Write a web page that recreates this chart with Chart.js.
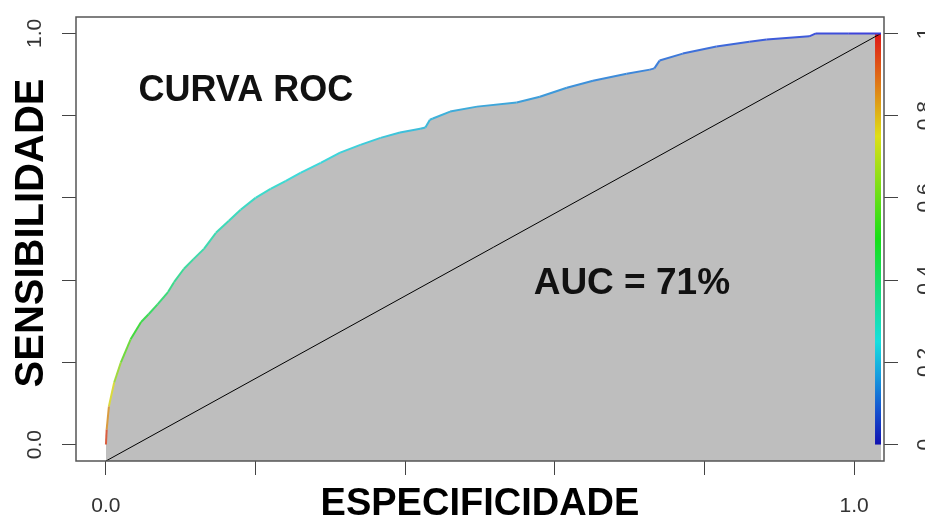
<!DOCTYPE html>
<html>
<head>
<meta charset="utf-8">
<title>CURVA ROC</title>
<script src="https://cdn.jsdelivr.net/npm/chart.js@4.4.1/dist/chart.umd.min.js"></script>
<style>
  html, body { margin: 0; padding: 0; background: #ffffff; }
  #wrap { width: 925px; height: 520px; position: relative; }
</style>
</head>
<body>
<div id="wrap"><canvas id="roc" width="925" height="520"></canvas></div>
<script>
// ROC curve points: false-positive rate (x) against sensitivity (y),
// with the classification cutoff reached at each point (drives the colour).
const fpr = [0, 0.001, 0.004, 0.011, 0.020, 0.033, 0.047, 0.057, 0.069, 0.083,
             0.091, 0.104, 0.117, 0.131, 0.147, 0.164, 0.180, 0.200, 0.220, 0.240,
             0.260, 0.287, 0.313, 0.340, 0.367, 0.393, 0.420, 0.427, 0.433, 0.437,
             0.460, 0.496, 0.549, 0.580, 0.616, 0.651, 0.696, 0.727, 0.733, 0.740,
             0.771, 0.816, 0.860, 0.883, 0.940, 0.949, 0.993, 1.036];
const tpr = [0, 0.037, 0.093, 0.151, 0.200, 0.256, 0.298, 0.317, 0.341, 0.371,
             0.395, 0.427, 0.451, 0.476, 0.515, 0.544, 0.571, 0.600, 0.622, 0.641,
             0.661, 0.685, 0.710, 0.729, 0.746, 0.759, 0.768, 0.771, 0.790, 0.793,
             0.810, 0.822, 0.832, 0.846, 0.868, 0.885, 0.902, 0.912, 0.915, 0.934,
             0.951, 0.968, 0.980, 0.985, 0.993, 1.000, 1.000, 1.000];
const cutoff = [1.00, 0.90, 0.80, 0.70, 0.62, 0.54, 0.48, 0.45, 0.42, 0.39,
                0.37, 0.35, 0.33, 0.32, 0.31, 0.30, 0.29, 0.28, 0.27, 0.26,
                0.25, 0.245, 0.24, 0.23, 0.22, 0.21, 0.20, 0.20, 0.19, 0.19,
                0.18, 0.17, 0.16, 0.15, 0.14, 0.13, 0.12, 0.11, 0.11, 0.10,
                0.09, 0.07, 0.06, 0.05, 0.04, 0.03, 0.02, 0.00];

// chance line
const chanceX = [0, 1.036];
const chanceY = [-0.04, 1.0];

// axis ticks and their labels
const tickValues = [0, 0.2, 0.4, 0.6, 0.8, 1];
const xTickLabels = ['0.0', '', '', '', '', '1.0'];
const yTickLabels = ['0.0', '', '', '', '', '1.0'];
const cutoffTickLabels = ['0', '0.2', '0.4', '0.6', '0.8', '1'];

const chartTitle = 'CURVA ROC';
const aucText = 'AUC = 71%';
const xTitle = 'ESPECIFICIDADE';
const yTitle = 'SENSIBILIDADE';

// rainbow colour for a cutoff value (1 = red, 0 = blue)
function cutoffColor(c) {
  const h = Math.round((1 - c) * 240);
  return 'hsl(' + h + ', 68%, 55%)';
}

const rocPoints = fpr.map((v, i) => ({ x: v, y: tpr[i] }));
const chancePoints = chanceX.map((v, i) => ({ x: v, y: chanceY[i] }));

const fixTicks = scale => { scale.ticks = tickValues.map(v => ({ value: v })); };

const FONT = '"Liberation Sans", Arial, Helvetica, sans-serif';

function rotatedText(ctx, text, x, y, font, color) {
  ctx.save();
  ctx.translate(x, y);
  ctx.rotate(-Math.PI / 2);
  ctx.font = font;
  ctx.fillStyle = color;
  ctx.textAlign = 'center';
  ctx.textBaseline = 'middle';
  ctx.fillText(text, 0, 0);
  ctx.restore();
}

const rocDecor = {
  id: 'rocDecor',
  beforeDraw(chart) {
    const { ctx, width, height } = chart;
    ctx.save();
    ctx.fillStyle = '#ffffff';
    ctx.fillRect(0, 0, width, height);
    ctx.restore();
  },
  afterDatasetDraw(chart, args, opts) {
    if (args.index !== 0) return;
    // cutoff colour bar along the right edge of the plot
    const { ctx, scales: { x, y } } = chart;
    const x0 = x.getPixelForValue(opts.barFrom);
    const x1 = x.getPixelForValue(opts.barTo);
    const yt = y.getPixelForValue(1);
    const yb = y.getPixelForValue(0);
    const g = ctx.createLinearGradient(0, yt, 0, yb);
    for (let i = 0; i <= 12; i++) {
      const t = i / 12;
      const light = t > 0.85 ? 50 - (t - 0.85) * 80 : 48;
      g.addColorStop(t, 'hsl(' + Math.round(240 * t) + ', 82%, ' + light + '%)');
    }
    ctx.save();
    ctx.fillStyle = g;
    ctx.fillRect(x0, yt, x1 - x0, yb - yt);
    ctx.restore();
  },
  afterDraw(chart, args, opts) {
    const { ctx, chartArea: a, scales: { x, y } } = chart;
    ctx.save();
    // plot frame
    ctx.strokeStyle = '#555555';
    ctx.lineWidth = 1.5;
    ctx.strokeRect(a.left, a.top, a.right - a.left, a.bottom - a.top);

    // rotated tick labels on both vertical axes
    const tickFont = '21px ' + FONT;
    tickValues.forEach((v, i) => {
      const py = y.getPixelForValue(v);
      if (yTickLabels[i]) rotatedText(ctx, yTickLabels[i], opts.leftLabelX, py, tickFont, '#333333');
      rotatedText(ctx, cutoffTickLabels[i], opts.rightLabelX, py, tickFont, '#333333');
    });

    // vertical axis title
    rotatedText(ctx, yTitle, opts.yTitleX, opts.yTitleY, 'bold 40px ' + FONT, '#000000');

    // in-plot text
    ctx.font = 'bold 36px ' + FONT;
    ctx.fillStyle = '#111111';
    ctx.textAlign = 'center';
    ctx.textBaseline = 'middle';
    ctx.fillText(chartTitle, x.getPixelForValue(opts.titleAt[0]), y.getPixelForValue(opts.titleAt[1]));
    ctx.font = 'bold 37px ' + FONT;
    ctx.fillText(aucText, x.getPixelForValue(opts.aucAt[0]), y.getPixelForValue(opts.aucAt[1]));
    ctx.restore();
  }
};

new Chart(document.getElementById('roc'), {
  type: 'line',
  data: {
    datasets: [
      {
        // grey area under the ROC curve
        label: 'area',
        data: rocPoints,
        order: 3,
        borderWidth: 0,
        borderColor: 'rgba(0,0,0,0)',
        pointRadius: 0,
        tension: 0,
        fill: 'start',
        backgroundColor: '#bebebe'
      },
      {
        label: 'chance',
        data: chancePoints,
        order: 2,
        borderColor: '#000000',
        borderWidth: 1,
        pointRadius: 0,
        fill: false
      },
      {
        // ROC curve coloured by cutoff
        label: 'ROC',
        data: rocPoints,
        order: 1,
        borderWidth: 2,
        pointRadius: 0,
        tension: 0,
        fill: false,
        borderColor: cutoffColor(0.2),
        segment: {
          borderColor: ctx => cutoffColor((cutoff[ctx.p0DataIndex] + cutoff[ctx.p1DataIndex]) / 2)
        }
      }
    ]
  },
  options: {
    responsive: false,
    animation: false,
    devicePixelRatio: 1,
    layout: { padding: { top: 17, left: 0, right: 0, bottom: 0 } },
    plugins: {
      legend: { display: false },
      tooltip: { enabled: false },
      rocDecor: {
        barFrom: 1.028,
        barTo: 1.036,
        leftLabelX: 35,
        rightLabelX: 925,
        yTitleX: 32,
        yTitleY: 233,
        titleAt: [0.187, 0.860],
        aucAt: [0.703, 0.390]
      }
    },
    scales: {
      x: {
        type: 'linear',
        min: -0.04,
        max: 1.04,
        afterBuildTicks: fixTicks,
        afterFit: s => { s.height = 59; },
        border: { display: false },
        grid: { drawOnChartArea: false, drawTicks: true, tickLength: 14, color: '#444444', lineWidth: 1 },
        ticks: {
          autoSkip: false,
          maxRotation: 0,
          padding: 19,
          color: '#333333',
          font: { family: FONT, size: 21 },
          callback: (v, i) => xTickLabels[i]
        },
        title: {
          display: true,
          text: xTitle,
          color: '#000000',
          font: { family: FONT, size: 38, weight: 'bold', lineHeight: 0.82 },
          padding: 0
        }
      },
      y: {
        type: 'linear',
        position: 'left',
        min: -0.04,
        max: 1.04,
        afterBuildTicks: fixTicks,
        afterFit: s => { s.width = 76; },
        border: { display: false },
        grid: { drawOnChartArea: false, drawTicks: true, tickLength: 14, color: '#444444', lineWidth: 1 },
        ticks: { display: false }
      },
      cut: {
        type: 'linear',
        position: 'right',
        min: -0.04,
        max: 1.04,
        afterBuildTicks: fixTicks,
        afterFit: s => { s.width = 41; },
        border: { display: false },
        grid: { drawOnChartArea: false, drawTicks: true, tickLength: 14, color: '#444444', lineWidth: 1 },
        ticks: { display: false }
      }
    }
  },
  plugins: [rocDecor]
});
</script>
</body>
</html>
